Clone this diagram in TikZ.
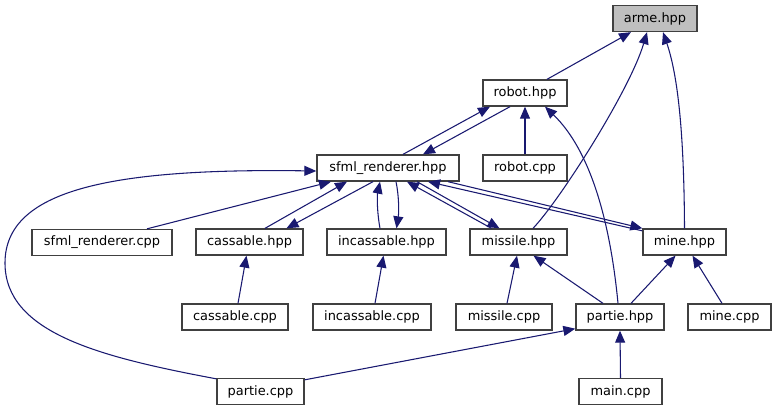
\documentclass[tikz,border=0pt]{standalone}
\usepackage{fontspec}
\setmainfont{DejaVu Sans}
\usetikzlibrary{arrows.meta,calc}
\definecolor{edgecol}{HTML}{191970}
\definecolor{boxcol}{HTML}{404040}
\definecolor{graybox}{HTML}{BFBFBF}
\begin{document}
\begin{tikzpicture}[x=0.75pt,y=-0.75pt,
  nd/.style={draw=boxcol, fill=white, line width=1pt, minimum width={#1*0.75pt}, minimum height=19.5pt, inner sep=0pt, font=\fontsize{9.7}{11}\selectfont},
  ed/.style={draw=edgecol, line width=0.8pt, -{Triangle[length=9pt,width=7.5pt]}}]
\useasboundingbox (0,0) rectangle (777,411);
% nodes
\node[nd=84, fill=graybox] (arme) at (655,18.5) {arme.hpp};
\node[nd=84] (robot) at (525,93) {robot.hpp};
\node[nd=142] (sfml) at (388,168) {sfml\_renderer.hpp};
\node[nd=84] (robotcpp) at (525,168) {robot.cpp};
\node[nd=140] (sfmlcpp) at (102,242.5) {sfml\_renderer.cpp};
\node[nd=107] (cass) at (249.5,242) {cassable.hpp};
\node[nd=119] (incass) at (386.5,242) {incassable.hpp};
\node[nd=97] (missile) at (518.5,242) {missile.hpp};
\node[nd=83] (mine) at (684.5,242) {mine.hpp};
\node[nd=106] (casscpp) at (235,317) {cassable.cpp};
\node[nd=118] (incasscpp) at (372,317) {incassable.cpp};
\node[nd=96] (missilecpp) at (504,317) {missile.cpp};
\node[nd=88] (partieh) at (620,317) {partie.hpp};
\node[nd=83] (minecpp) at (729.5,317) {mine.cpp};
\node[nd=87] (partiecpp) at (260.5,391.5) {partie.cpp};
\node[nd=83] (maincpp) at (620.5,391.5) {main.cpp};
% edges to arme
\draw[ed] ($(robot.north)+(22,0)$) -- ($(arme.south)+(-24,0)$);
\draw[ed] ($(missile.north)+(14.5,0)$) .. controls (560,200) and (630,90) .. ($(arme.south)+(-8,0)$);
\draw[ed] (mine.north) .. controls (684,120) and (676,70) .. ($(arme.south)+(8,0)$);
% robot <-> sfml
\draw[ed] ($(sfml.north)+(15,0)$) -- ($(robot.south)+(-35,0)$);
\draw[ed] ($(robot.south)+(-15,0)$) -- ($(sfml.north)+(35,0)$);
\draw[ed] (robotcpp.north) -- (robot.south);
\draw[ed] ($(partieh.north)+(-2,0)$) .. controls (610,220) and (590,150) .. ($(robot.south)+(20,0)$);
% to sfml
\draw[ed] ($(sfmlcpp.north)+(45,0)$) -- ($(sfml.south)+(-57,0)$);
\draw[ed] ($(cass.north)+(15.5,0)$) -- ($(sfml.south)+(-41,0)$);
\draw[ed] ($(sfml.south)+(-15,0)$) -- ($(cass.north)+(37,0)$);
\draw[ed] ($(incass.north)+(-6.5,0)$) .. controls (377,212) and (377,196) .. ($(sfml.south)+(-8,0)$);
\draw[ed] ($(sfml.south)+(8,0)$) .. controls (399,196) and (399,212) .. ($(incass.north)+(10,0)$);
\draw[ed] ($(missile.north)+(-27,0)$) -- ($(sfml.south)+(19,0)$);
\draw[ed] ($(sfml.south)+(29,0)$) -- ($(missile.north)+(-19,0)$);
\draw[ed] ($(mine.north west)+(0,2.5)$) -- ($(sfml.south)+(40,0)$);
\draw[ed] ($(sfml.south)+(60,0)$) -- (mine.north west);
\draw[ed] ($(partiecpp.north west)+(0,1)$) .. controls (100,357) and (5,333) .. (5,263)
  .. controls (5,190) and (110,168) .. ($(sfml.west)+(0,3)$);
% lower
\draw[ed] ($(casscpp.north)+(3,0)$) -- ($(cass.south)+(-3,0)$);
\draw[ed] ($(incasscpp.north)+(3,0)$) -- ($(incass.south)+(-3,0)$);
\draw[ed] ($(missilecpp.north)+(3,0)$) -- ($(missile.south)+(-1.5,0)$);
\draw[ed] ($(partieh.north)+(-17,0)$) -- ($(missile.south)+(15,0)$);
\draw[ed] ($(partieh.north)+(11,0)$) -- ($(mine.south)+(-9,0)$);
\draw[ed] ($(minecpp.north)+(-7.5,0)$) -- ($(mine.south)+(8,0)$);
\draw[ed] (maincpp.north) -- (partieh.south);
\draw[ed] ($(partiecpp.north east)+(0,2)$) -- ($(partieh.south west)+(0,-2)$);
\end{tikzpicture}
\end{document}
